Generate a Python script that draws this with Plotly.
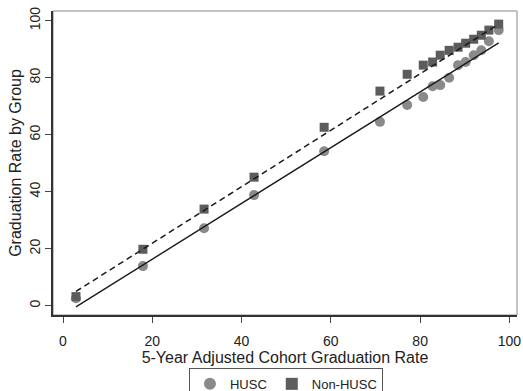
import plotly.graph_objects as go

# Data
state_rate = [2.9, 17.9, 31.6, 42.8, 58.5, 71.0, 77.1, 80.7, 82.8, 84.5, 86.5, 88.5, 90.2, 92.0, 93.7, 95.4, 97.6]
husc_rate = [2.6, 13.9, 27.2, 38.8, 54.2, 64.5, 70.4, 73.2, 77.0, 77.4, 80.0, 84.4, 85.5, 87.9, 89.6, 92.8, 96.7]
nonhusc_rate = [3.2, 19.8, 33.9, 45.1, 62.6, 75.3, 81.2, 84.4, 85.5, 87.9, 89.6, 90.7, 92.1, 93.5, 94.9, 96.7, 98.8]

fit_x = [2.9, 97.6]
husc_fit = [-0.4, 92.2]
nonhusc_fit = [5.0, 98.8]

x_ticks = [0, 20, 40, 60, 80, 100]
y_ticks = [0, 20, 40, 60, 80, 100]

FONT = "Liberation Sans, Arial, sans-serif"

fig = go.Figure()
fig.add_trace(go.Scatter(
    x=state_rate, y=husc_rate, mode="markers", name="HUSC",
    marker=dict(symbol="circle", size=10, color="#8a8a8a", line=dict(width=0)),
))
fig.add_trace(go.Scatter(
    x=state_rate, y=nonhusc_rate, mode="markers", name="Non-HUSC",
    marker=dict(symbol="square", size=9, color="#5c5c5c", line=dict(width=0)),
))
fig.add_trace(go.Scatter(
    x=fit_x, y=husc_fit, mode="lines", showlegend=False,
    line=dict(color="#1a1a1a", width=1.4),
))
fig.add_trace(go.Scatter(
    x=fit_x, y=nonhusc_fit, mode="lines", showlegend=False,
    line=dict(color="#1a1a1a", width=1.5, dash="6px,4px"),
))

fig.update_layout(
    width=523, height=391,
    margin=dict(l=53, r=6, t=11, b=76, autoexpand=False),
    paper_bgcolor="white", plot_bgcolor="white",
    font=dict(family=FONT, size=14, color="#222"),
    showlegend=True,
    legend=dict(
        orientation="h", x=0.502, xanchor="center", y=-0.174, yanchor="top",
        bordercolor="#555", borderwidth=1, font=dict(size=13, color="#222"),
        itemsizing="constant", itemwidth=30, tracegroupgap=0,
    ),
    xaxis=dict(
        range=[-2.24, 101.7], tickvals=x_ticks, ticks="outside", ticklen=6,
        tickcolor="#444", showgrid=False, zeroline=False,
        showline=True, linecolor="#333", linewidth=1.5, mirror=False,
        tickfont=dict(size=14), ticklabelstandoff=6,
        title=dict(text="5-Year Adjusted Cohort Graduation Rate", font=dict(size=16), standoff=1),
    ),
    yaxis=dict(
        range=[-3.26, 103.4], tickvals=y_ticks, ticks="outside", ticklen=6,
        tickcolor="#444", showgrid=False, zeroline=False, tickangle=-90,
        showline=True, linecolor="#333", linewidth=1.5, mirror=False,
        tickfont=dict(size=14), ticklabelstandoff=0,
        title=dict(text="Graduation Rate by Group", font=dict(size=16), standoff=1),
    ),
    shapes=[dict(type="rect", xref="paper", yref="paper", x0=0, y0=0, x1=1, y1=1,
                 line=dict(color="#888", width=1), layer="below")],
)

fig.write_html("out.html")
